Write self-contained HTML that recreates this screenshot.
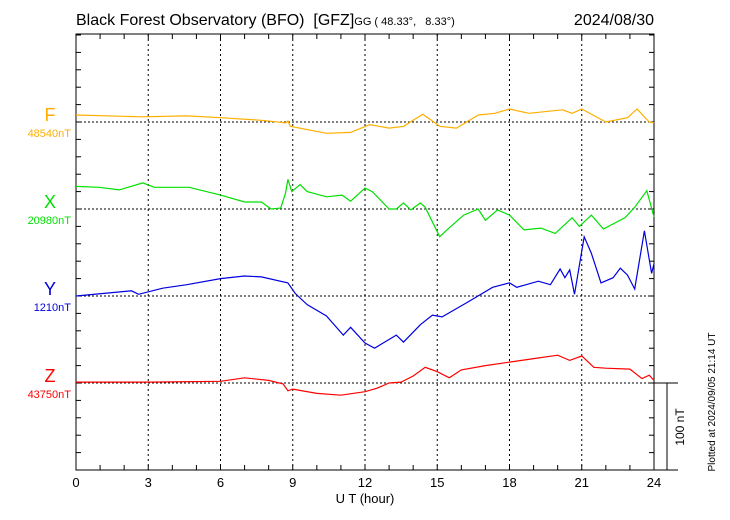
<!DOCTYPE html>
<html><head><meta charset="utf-8"><style>
body{margin:0;background:#fff;}
svg{display:block;font-family:"Liberation Sans",sans-serif;}
</style></head><body>
<svg id="chart" width="730" height="520" viewBox="0 0 730 520">
<text x="76" y="25" font-size="16">Black Forest Observatory (BFO)&#160;&#160;[GFZ]<tspan font-size="11">GG ( 48.33°,&#160;&#160;&#160;8.33°)</tspan></text>
<text x="654" y="25" font-size="16" text-anchor="end">2024/08/30</text>
<g id="axes"></g>
<g id="series"></g>
<text x="365" y="503" font-size="13" text-anchor="middle">U T (hour)</text>
<text transform="translate(684,427) rotate(-90)" font-size="12" text-anchor="middle">100 nT</text>
<text transform="translate(715,402) rotate(-90)" font-size="10" text-anchor="middle">Plotted at 2024/09/05 21:14 UT</text>
</svg>
<script>
const hoursTicks=[0,3,6,9,12,15,18,21,24];
const fH=[0,2.7,4.6,6,7.7,8.7,8.8,8.9,10.4,11.4,12.2,13,13.6,14.4,15.1,15.8,16.7,17.4,18,18.8,20.2,20.6,21,22,22.9,23.3,23.8,24];
const fV=[8,6,7,5,2,-1,1,-5,-13,-12,-3,-7,-5,9,-5,-7,8,10,15,10,14,10,15,0,5,15,0,-1];
const xH=[0,0.97,1.8,2.77,3.26,4.7,6,7,7.7,8.1,8.5,8.7,8.8,8.96,9.3,9.6,10.4,11.05,11.4,12,12.3,13,13.3,13.6,13.9,14.3,14.5,15.1,15.4,16.1,16.7,17,17.5,18,18.6,19.3,19.9,20.6,20.9,21.4,21.9,22.8,23.2,23.7,24];
const xV=[26,25,22,30,25,25,16,8,8,0,1,18,34,20,28,20,14,16,9,24,20,0,0,7,-1,7,2,-32,-24,-7,0,-13,-1,-7,-24,-22,-28,-10,-20,-7,-23,-10,2,21,-9];
const yH=[0,2.3,2.6,3.6,4.6,6,7,7.7,8.8,9.1,9.6,10.4,11.1,11.4,12,12.4,13.3,13.6,14.3,14.8,15.2,16.2,17.3,18,18.3,19.2,19.7,20.1,20.3,20.5,20.7,21.1,21.4,21.8,22.3,22.6,22.9,23.2,23.6,23.9,24];
const yV=[0,6,2,9,13,20,23,22,15,3,-10,-23,-45,-36,-54,-60,-45,-53,-33,-22,-24,-8,10,15,10,17,13,31,21,30,2,68,49,15,21,32,24,8,75,26,37];
const zH=[0,3,6,7,8,8.6,8.8,9,10,11,12,12.5,13,13.5,14,14.5,15,15.5,16,17,18,19,20,20.5,21,21.5,22,23,23.5,23.8,24];
const zV=[1,1,2,6,3,-1,-9,-7,-12,-14,-10,-6,0,1,8,18,13,6,15,20,24,28,32,26,31,18,17,16,5,9,3];
const comps=["F","X","Y","Z"];
const baseLabels=["48540nT","20980nT","1210nT","43750nT"];
const colors=["#ffae00","#00e000","#0000e0","#ff0000"];
const NS="http://www.w3.org/2000/svg";
const L=76,R=654,T=34,B=470,bases=[122,209,296,383],pxPerNT=0.87;
const sx=h=>L+h*(R-L)/24;
const sy=(i,v)=>bases[i]-v*pxPerNT;
function mk(tag,attrs,parent){const e=document.createElementNS(NS,tag);for(const k in attrs)e.setAttribute(k,attrs[k]);parent.appendChild(e);return e;}
const ax=document.getElementById('axes'),sg=document.getElementById('series');
let e=mk('rect',{x:L,y:T,width:R-L,height:B-T,fill:'none',stroke:'#000','stroke-width':1},ax);


for(let h=1;h<24;h++){
  e=mk('line',{x1:sx(h),x2:sx(h),y1:T,y2:T+5,stroke:'#000'},ax);
  
  
  e=mk('line',{x1:sx(h),x2:sx(h),y1:B,y2:B-5,stroke:'#000'},ax);
  
  
}
for(let y=B;y>=T;y-=17.4){
  e=mk('line',{x1:L,x2:L+5,y1:y,y2:y,stroke:'#000'},ax);
  
  
  e=mk('line',{x1:R,x2:R-5,y1:y,y2:y,stroke:'#000'},ax);
  
  
}
hoursTicks.forEach(h=>{
  if(h>0&&h<24){e=mk('line',{x1:sx(h),x2:sx(h),y1:T,y2:B,stroke:'#000','stroke-dasharray':'2,3'},ax);
  
  }
  e=mk('text',{x:sx(h),y:487,'font-size':13,'text-anchor':'middle'},ax);e.textContent=h;
  
  
});
bases.forEach((b,i)=>{
  e=mk('line',{x1:L,x2:R,y1:b,y2:b,stroke:'#000','stroke-dasharray':'2,2'},ax);
  
  
  e=mk('text',{x:50,y:b-1,'font-size':18,'text-anchor':'middle',fill:colors[i]},ax);e.textContent=comps[i];
  
  
  e=mk('text',{x:71,y:b+15,'font-size':11,'text-anchor':'end',fill:colors[i]},ax);e.textContent=baseLabels[i];
  
  
});
e=mk('line',{x1:R,x2:678,y1:B,y2:B,stroke:'#000'},ax);


e=mk('line',{x1:R,x2:678,y1:383,y2:383,stroke:'#000'},ax);


e=mk('line',{x1:667,x2:667,y1:383,y2:B,stroke:'#000'},ax);


[[fH,fV],[xH,xV],[yH,yV],[zH,zV]].forEach(([hs,vs],i)=>{
  const pts=hs.map((h,k)=>sx(h).toFixed(1)+','+sy(i,vs[k]).toFixed(1)).join(' ');
  e=mk('polyline',{points:pts,fill:'none',stroke:colors[i],'stroke-width':1.2},sg);
  
  
});
</script>
</body></html>
